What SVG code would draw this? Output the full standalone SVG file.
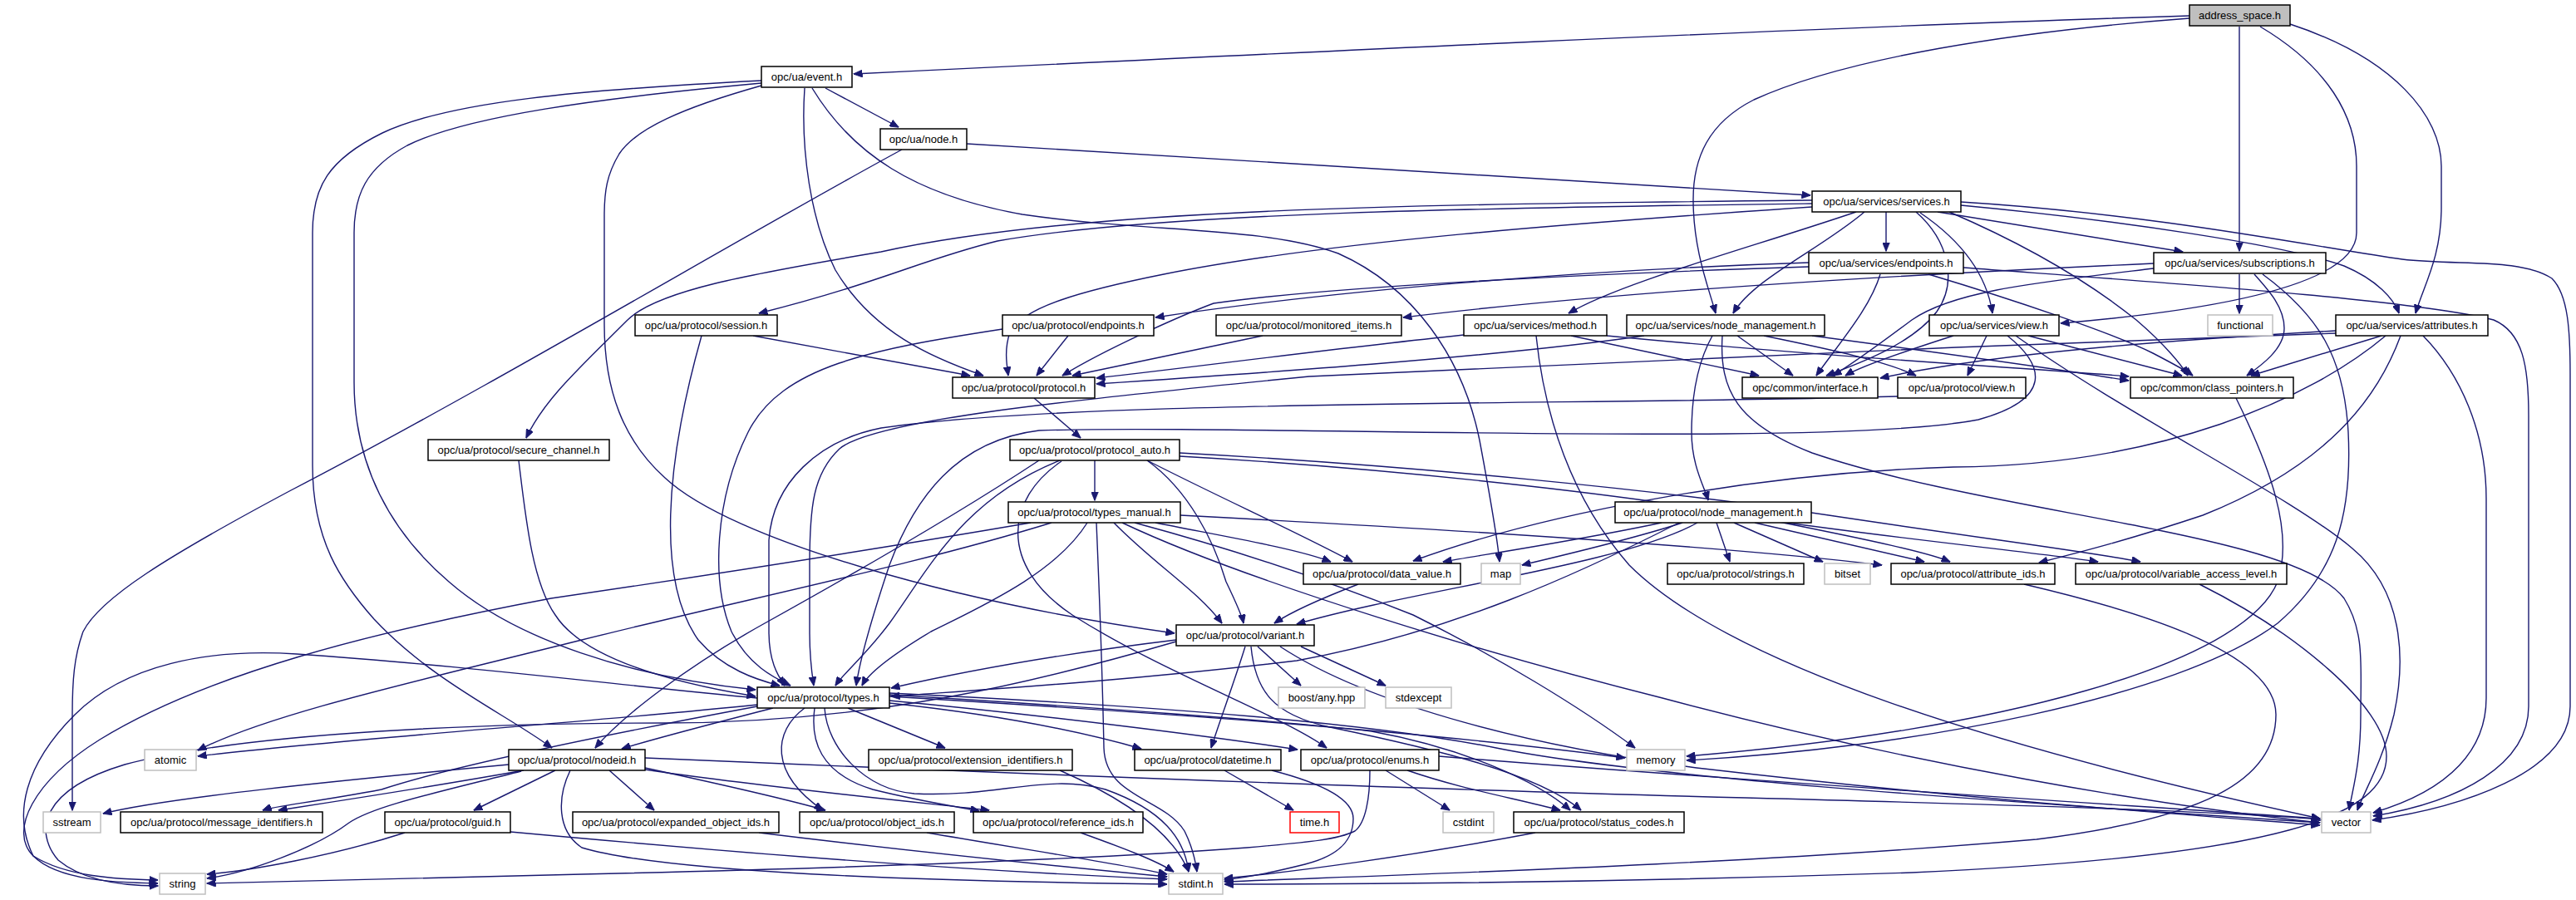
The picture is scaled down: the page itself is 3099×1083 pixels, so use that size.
<svg xmlns="http://www.w3.org/2000/svg" width="3099" height="1083" viewBox="0 0 3099 1083">
<defs>
<marker id="a" markerUnits="userSpaceOnUse" markerWidth="11" markerHeight="9" viewBox="0 0 11 9" refX="10.5" refY="4.5" orient="auto"><path d="M0,0 L11,4.5 L0,9 z" fill="#191970" stroke="#191970" stroke-width="0.8"/></marker>
</defs>
<style>
.e{fill:none;stroke:#191970;stroke-width:1.4;marker-end:url(#a)}
.n rect{fill:#fff;stroke:#000;stroke-width:1.5}
.g rect{fill:#fff;stroke:#bfbfbf;stroke-width:1.5}
.r rect{fill:#bfbfbf;stroke:#000;stroke-width:1.5}
.x rect{fill:#fff;stroke:#ff0000;stroke-width:1.5}
text{font-family:"Liberation Sans",Arial,sans-serif;font-size:13px;text-anchor:middle;fill:#000}
</style>
<rect width="3099" height="1083" fill="#fff"/>
<g id="edges">
<path class="e" d="M2634,19 C2200,32 1500,66 1027,89"/>
<path class="e" d="M2634,22 C2420,38 2220,70 2110,120 C2055,148 2037,190 2037,240 C2037,300 2055,345 2064,377"/>
<path class="e" d="M2694,32 L2694,302"/>
<path class="e" d="M2719,32 C2800,80 2835,140 2835,200 L2835,280 C2835,340 2680,372 2479,389"/>
<path class="e" d="M2755,29 C2880,70 2937,140 2937,200 L2937,250 C2937,310 2915,345 2906,377"/>
<path class="e" d="M993,106 L1081,153"/>
<path class="e" d="M916,97 C700,108 540,122 460,160 C395,192 376,225 376,280 L376,560 C376,650 410,700 450,745 C520,820 610,860 664,900"/>
<path class="e" d="M916,100 C720,118 560,140 490,175 C440,202 426,235 426,280 L426,460 C426,560 470,640 540,700 C620,770 760,815 909,830"/>
<path class="e" d="M916,103 C820,130 765,155 745,185 C730,210 727,230 727,260 L727,390 C727,470 750,530 800,575 C880,650 1150,725 1413,762"/>
<path class="e" d="M968,106 C963,180 975,265 1005,325 C1050,400 1120,430 1183,452"/>
<path class="e" d="M977,106 C1025,185 1100,235 1230,258 C1380,280 1520,272 1610,305 C1700,345 1760,430 1780,530 C1795,610 1801,645 1804,676"/>
<path class="e" d="M1163,173 L2178,235"/>
<path class="e" d="M1085,180 C900,280 600,460 350,590 C200,670 120,720 100,760 C89,790 87,820 87,860 L87,975"/>
<path class="e" d="M2269,255 L2269,302"/>
<path class="e" d="M2331,255 C2450,275 2550,290 2626,303"/>
<path class="e" d="M2310,256 C2360,290 2390,330 2397,377"/>
<path class="e" d="M2359,247 C2550,265 2750,295 2820,320 C2860,337 2880,360 2886,377"/>
<path class="e" d="M2359,243 C2600,258 2800,300 2890,312 C2960,320 3030,310 3070,335 C3090,355 3092,400 3092,450 L3092,850 C3092,930 2960,972 2854,987"/>
<path class="e" d="M2243,255 C2190,300 2110,335 2085,377"/>
<path class="e" d="M2233,255 C2100,300 1950,340 1887,377"/>
<path class="e" d="M2180,249 C1900,268 1600,290 1400,330 C1300,350 1230,370 1215,400 C1208,420 1211,438 1213,452"/>
<path class="e" d="M2180,245 C1800,250 1400,255 1200,290 C1110,312 1060,340 913,377"/>
<path class="e" d="M2180,241 C1700,246 1300,250 1060,303 C900,330 790,350 755,385 C700,440 655,480 633,527"/>
<path class="e" d="M2305,255 C2345,290 2355,340 2330,375 C2300,415 2230,440 2197,452"/>
<path class="e" d="M2345,255 C2450,300 2520,345 2570,385 C2605,415 2625,440 2632,452"/>
<path class="e" d="M2176,316 C1900,325 1600,350 1390,382"/>
<path class="e" d="M2176,321 C1900,330 1600,345 1460,365 C1420,380 1330,420 1278,452"/>
<path class="e" d="M2262,330 C2250,370 2215,410 2185,452"/>
<path class="e" d="M2320,330 C2420,360 2540,400 2590,425 C2615,438 2630,446 2638,452"/>
<path class="e" d="M2362,322 C2600,340 2900,360 3000,385 C3035,400 3042,440 3042,500 L3042,850 C3042,920 2960,965 2855,982"/>
<path class="e" d="M2694,330 L2694,377"/>
<path class="e" d="M2712,330 C2730,350 2748,370 2748,395 C2748,420 2720,440 2703,452"/>
<path class="e" d="M2591,323 C2450,340 2350,350 2300,385 C2260,415 2225,440 2205,452"/>
<path class="e" d="M2591,317 C2300,330 1950,350 1688,382"/>
<path class="e" d="M2722,330 C2790,380 2820,430 2825,520 C2830,620 2810,690 2740,750 C2620,840 2300,900 2029,915"/>
<path class="e" d="M2690,479 C2730,560 2760,640 2740,700 C2700,800 2400,880 2029,910"/>
<path class="e" d="M906,404 L1167,452"/>
<path class="e" d="M844,404 C800,560 790,700 840,770 C870,805 910,818 938,825"/>
<path class="e" d="M1285,404 L1247,452"/>
<path class="e" d="M1206,396 C1050,420 940,440 900,520 C860,600 855,700 880,760 C900,800 930,815 951,825"/>
<path class="e" d="M1519,404 L1290,452"/>
<path class="e" d="M1761,403 C1600,420 1450,440 1319,455"/>
<path class="e" d="M1890,404 L2116,452"/>
<path class="e" d="M1933,404 C2200,430 2400,440 2561,453"/>
<path class="e" d="M1848,404 C1858,500 1890,600 1960,680 C2080,800 2400,900 2791,985"/>
<path class="e" d="M2060,404 C2040,440 2035,480 2035,520 C2035,560 2050,585 2055,602"/>
<path class="e" d="M2090,404 L2157,452"/>
<path class="e" d="M2122,404 C2200,420 2270,435 2305,452"/>
<path class="e" d="M2180,404 C2300,420 2450,440 2561,458"/>
<path class="e" d="M2072,404 C2068,470 2090,510 2180,545 C2400,620 2760,640 2820,720 C2845,760 2840,800 2840,860 C2840,920 2830,950 2826,975"/>
<path class="e" d="M1978,404 C1800,430 1500,450 1319,462"/>
<path class="e" d="M2390,404 L2367,452"/>
<path class="e" d="M2350,404 C2300,420 2240,440 2220,452"/>
<path class="e" d="M2440,404 L2625,452"/>
<path class="e" d="M2415,404 C2460,440 2470,480 2380,505 C2200,540 1500,510 1250,518 C1150,530 1100,600 1070,680 C1050,740 1035,790 1030,825"/>
<path class="e" d="M2425,404 C2560,500 2760,600 2830,660 C2890,710 2895,790 2880,860 C2865,920 2845,950 2836,975"/>
<path class="e" d="M2810,398 C2600,410 2400,425 2262,455"/>
<path class="e" d="M2865,404 L2708,452"/>
<path class="e" d="M2810,401 C2400,415 1800,440 1575,453 C1300,480 1050,505 1010,540 C978,570 974,610 974,680 L974,760 C974,795 977,812 979,825"/>
<path class="e" d="M2870,404 C2780,480 2600,560 2350,562 C2100,570 1850,620 1700,675"/>
<path class="e" d="M2888,404 C2860,480 2800,560 2650,620 C2560,650 2500,665 2453,677"/>
<path class="e" d="M2915,404 C2960,450 2991,520 2991,600 L2991,840 C2991,900 2950,950 2855,978"/>
<path class="e" d="M1244,479 L1300,527"/>
<path class="e" d="M2283,477 C1900,488 1300,480 1060,515 C985,530 930,580 925,650 L925,760 C925,795 935,812 944,825"/>
<path class="e" d="M624,554 C632,620 640,700 668,740 C700,790 800,820 909,838"/>
<path class="e" d="M1317,554 L1317,602"/>
<path class="e" d="M1419,545 C1700,560 2000,590 2200,620 C2400,650 2520,665 2575,676"/>
<path class="e" d="M1419,549 C1700,565 2000,600 2150,630 C2250,650 2320,665 2346,676"/>
<path class="e" d="M1380,554 C1470,600 1560,640 1627,676"/>
<path class="e" d="M1380,554 C1430,590 1460,650 1475,700 C1487,725 1494,740 1496,750"/>
<path class="e" d="M1275,554 C1160,600 1120,680 1070,750 C1040,790 1015,810 1005,825"/>
<path class="e" d="M1250,554 C1150,620 1010,700 920,750 C830,800 750,860 716,900"/>
<path class="e" d="M1277,555 C1210,600 1200,680 1290,740 C1400,810 1540,860 1596,900"/>
<path class="e" d="M1390,629 C1470,645 1560,660 1601,676"/>
<path class="e" d="M1420,620 C1800,640 2100,660 2264,680"/>
<path class="e" d="M1340,629 C1390,680 1440,710 1470,750"/>
<path class="e" d="M1308,629 C1270,690 1180,730 1120,760 C1070,790 1045,810 1037,825"/>
<path class="e" d="M1319,629 C1322,700 1326,800 1328,900 C1330,960 1400,960 1425,1000 C1435,1020 1438,1035 1440,1049"/>
<path class="e" d="M1365,629 C1480,660 1600,700 1700,740 C1800,790 1900,850 1967,900"/>
<path class="e" d="M1350,629 C1500,700 1800,790 2000,840 C2300,920 2600,970 2791,990"/>
<path class="e" d="M1265,629 C1100,680 900,720 700,770 C500,820 320,860 238,903"/>
<path class="e" d="M1240,629 C1000,670 800,700 663,720 C450,760 250,810 120,890 C40,940 10,1000 40,1030 C80,1055 140,1058 190,1059"/>
<path class="e" d="M911,840 C750,825 550,800 357,787 C250,780 150,800 90,860 C30,920 15,980 40,1030 C70,1060 140,1062 190,1063"/>
<path class="e" d="M1415,772 C1250,820 1050,870 800,870 C600,870 300,880 150,920 C50,950 40,1000 70,1035 C100,1060 150,1066 190,1066"/>
<path class="e" d="M911,848 C700,870 400,890 238,910"/>
<path class="e" d="M911,850 C750,880 550,920 459,950 C380,965 330,970 316,975"/>
<path class="e" d="M930,852 C860,870 790,888 748,901"/>
<path class="e" d="M1020,852 L1137,900"/>
<path class="e" d="M1070,846 C1200,860 1300,880 1373,901"/>
<path class="e" d="M1070,843 C1250,860 1450,885 1561,902"/>
<path class="e" d="M1070,838 C1350,855 1700,878 1955,912"/>
<path class="e" d="M1070,836 C1300,850 1550,868 1650,880 C1760,900 1850,940 1889,975"/>
<path class="e" d="M1070,834 C1400,850 1650,870 1800,900 C2000,940 2500,970 2791,990"/>
<path class="e" d="M968,852 C930,880 925,930 990,975"/>
<path class="e" d="M980,852 C975,890 985,930 1050,950 C1110,965 1160,972 1178,976"/>
<path class="e" d="M992,852 C995,900 1040,950 1100,955 C1200,960 1260,930 1330,950 C1400,975 1425,1010 1430,1049"/>
<path class="e" d="M1415,770 C1250,790 1150,810 1072,828"/>
<path class="e" d="M2020,629 C1900,690 1750,760 1560,795 C1350,820 1180,830 1072,838"/>
<path class="e" d="M2042,629 C1950,680 1700,710 1560,751"/>
<path class="e" d="M1999,629 C1900,650 1800,665 1736,676"/>
<path class="e" d="M2024,629 C1960,650 1880,668 1831,680"/>
<path class="e" d="M2065,629 L2081,676"/>
<path class="e" d="M2086,629 L2193,676"/>
<path class="e" d="M2111,629 L2315,676"/>
<path class="e" d="M2150,629 C2300,650 2450,665 2524,676"/>
<path class="e" d="M1634,703 C1590,720 1555,735 1533,750"/>
<path class="e" d="M2435,703 C2550,730 2738,780 2738,860 C2738,940 2650,985 2450,1010 C2100,1040 1700,1052 1473,1061"/>
<path class="e" d="M2646,703 C2760,760 2871,850 2871,910 C2871,980 2750,1030 2300,1050 C2000,1060 1700,1064 1473,1064"/>
<path class="e" d="M1513,778 L1565,825"/>
<path class="e" d="M1565,778 L1667,825"/>
<path class="e" d="M1498,778 C1485,820 1470,860 1457,900"/>
<path class="e" d="M1505,778 C1510,830 1530,860 1600,875 C1720,900 1850,930 1902,975"/>
<path class="e" d="M1540,778 C1650,850 1850,900 2050,925 C2350,960 2600,978 2791,993"/>
<path class="e" d="M1275,927 C1350,960 1410,1000 1430,1049"/>
<path class="e" d="M1473,927 L1556,975"/>
<path class="e" d="M1530,927 C1600,945 1628,965 1628,985 C1628,1012 1610,1030 1570,1040 C1530,1050 1500,1056 1473,1059"/>
<path class="e" d="M1667,927 L1744,975"/>
<path class="e" d="M1693,927 C1760,950 1820,960 1877,975"/>
<path class="e" d="M1731,910 C2100,940 2500,965 2791,985"/>
<path class="e" d="M1648,927 C1648,960 1643,990 1630,1000 C1610,1010 1580,1013 1500,1020 C1300,1035 1000,1045 700,1052 C500,1056 350,1060 249,1063"/>
<path class="e" d="M1847,1002 C1700,1030 1550,1050 1473,1057"/>
<path class="e" d="M487,1002 C400,1030 300,1048 249,1052"/>
<path class="e" d="M614,1001 C800,1018 1100,1045 1404,1058"/>
<path class="e" d="M612,920 C400,940 200,960 124,979"/>
<path class="e" d="M630,927 C500,950 400,965 335,975"/>
<path class="e" d="M627,928 C520,955 450,970 420,990 C380,1020 300,1050 249,1057"/>
<path class="e" d="M668,927 L570,975"/>
<path class="e" d="M733,927 L787,975"/>
<path class="e" d="M776,924 C850,940 940,960 993,975"/>
<path class="e" d="M776,926 C900,945 1100,965 1190,975"/>
<path class="e" d="M686,927 C670,960 670,1000 700,1020 C800,1050 1100,1060 1404,1064"/>
<path class="e" d="M776,912 C1200,930 1700,950 2100,960 C2400,968 2650,975 2791,986"/>
<path class="e" d="M913,1002 C1100,1025 1300,1045 1404,1055"/>
<path class="e" d="M1115,1002 C1250,1025 1350,1040 1404,1052"/>
<path class="e" d="M1300,1002 C1350,1020 1390,1035 1412,1049"/>
</g>
<g id="address_space" class="r"><rect x="2634" y="6" width="121" height="25"/><text x="2694.5" y="23">address_space.h</text></g>
<g id="event" class="n"><rect x="916" y="80" width="109" height="25"/><text x="970.5" y="97">opc/ua/event.h</text></g>
<g id="node" class="n"><rect x="1059" y="155" width="104" height="25"/><text x="1111" y="172">opc/ua/node.h</text></g>
<g id="services" class="n"><rect x="2180" y="230" width="179" height="25"/><text x="2269.5" y="247">opc/ua/services/services.h</text></g>
<g id="services_endpoints" class="n"><rect x="2176" y="304" width="186" height="25"/><text x="2269" y="321">opc/ua/services/endpoints.h</text></g>
<g id="subscriptions" class="n"><rect x="2591" y="304" width="207" height="25"/><text x="2694.5" y="321">opc/ua/services/subscriptions.h</text></g>
<g id="session" class="n"><rect x="764" y="379" width="171" height="25"/><text x="849.5" y="396">opc/ua/protocol/session.h</text></g>
<g id="protocol_endpoints" class="n"><rect x="1206" y="379" width="182" height="25"/><text x="1297" y="396">opc/ua/protocol/endpoints.h</text></g>
<g id="monitored_items" class="n"><rect x="1463" y="379" width="223" height="25"/><text x="1574.5" y="396">opc/ua/protocol/monitored_items.h</text></g>
<g id="method" class="n"><rect x="1761" y="379" width="172" height="25"/><text x="1847" y="396">opc/ua/services/method.h</text></g>
<g id="services_node_management" class="n"><rect x="1957" y="379" width="238" height="25"/><text x="2076" y="396">opc/ua/services/node_management.h</text></g>
<g id="services_view" class="n"><rect x="2321" y="379" width="156" height="25"/><text x="2399" y="396">opc/ua/services/view.h</text></g>
<g id="functional" class="g"><rect x="2656" y="379" width="78" height="25"/><text x="2695" y="396">functional</text></g>
<g id="attributes" class="n"><rect x="2810" y="379" width="183" height="25"/><text x="2901.5" y="396">opc/ua/services/attributes.h</text></g>
<g id="protocol" class="n"><rect x="1146" y="454" width="171" height="25"/><text x="1231.5" y="471">opc/ua/protocol/protocol.h</text></g>
<g id="interface" class="n"><rect x="2096" y="454" width="163" height="25"/><text x="2177.5" y="471">opc/common/interface.h</text></g>
<g id="protocol_view" class="n"><rect x="2283" y="454" width="154" height="25"/><text x="2360" y="471">opc/ua/protocol/view.h</text></g>
<g id="class_pointers" class="n"><rect x="2563" y="454" width="196" height="25"/><text x="2661" y="471">opc/common/class_pointers.h</text></g>
<g id="secure_channel" class="n"><rect x="515" y="529" width="218" height="25"/><text x="624" y="546">opc/ua/protocol/secure_channel.h</text></g>
<g id="protocol_auto" class="n"><rect x="1215" y="529" width="204" height="25"/><text x="1317" y="546">opc/ua/protocol/protocol_auto.h</text></g>
<g id="types_manual" class="n"><rect x="1213" y="604" width="207" height="25"/><text x="1316.5" y="621">opc/ua/protocol/types_manual.h</text></g>
<g id="protocol_node_management" class="n"><rect x="1943" y="604" width="236" height="25"/><text x="2061" y="621">opc/ua/protocol/node_management.h</text></g>
<g id="data_value" class="n"><rect x="1568" y="678" width="189" height="25"/><text x="1662.5" y="695">opc/ua/protocol/data_value.h</text></g>
<g id="map" class="g"><rect x="1782" y="678" width="47" height="25"/><text x="1805.5" y="695">map</text></g>
<g id="strings" class="n"><rect x="2006" y="678" width="164" height="25"/><text x="2088" y="695">opc/ua/protocol/strings.h</text></g>
<g id="bitset" class="g"><rect x="2195" y="678" width="55" height="25"/><text x="2222.5" y="695">bitset</text></g>
<g id="attribute_ids" class="n"><rect x="2275" y="678" width="197" height="25"/><text x="2373.5" y="695">opc/ua/protocol/attribute_ids.h</text></g>
<g id="variable_access_level" class="n"><rect x="2497" y="678" width="254" height="25"/><text x="2624" y="695">opc/ua/protocol/variable_access_level.h</text></g>
<g id="variant" class="n"><rect x="1415" y="752" width="166" height="25"/><text x="1498" y="769">opc/ua/protocol/variant.h</text></g>
<g id="types" class="n"><rect x="911" y="827" width="159" height="25"/><text x="990.5" y="844">opc/ua/protocol/types.h</text></g>
<g id="boost_any" class="g"><rect x="1538" y="827" width="104" height="25"/><text x="1590" y="844">boost/any.hpp</text></g>
<g id="stdexcept" class="g"><rect x="1667" y="827" width="79" height="25"/><text x="1706.5" y="844">stdexcept</text></g>
<g id="atomic" class="g"><rect x="174" y="902" width="62" height="25"/><text x="205" y="919">atomic</text></g>
<g id="nodeid" class="n"><rect x="612" y="902" width="164" height="25"/><text x="694" y="919">opc/ua/protocol/nodeid.h</text></g>
<g id="extension_identifiers" class="n"><rect x="1045" y="902" width="245" height="25"/><text x="1167.5" y="919">opc/ua/protocol/extension_identifiers.h</text></g>
<g id="datetime" class="n"><rect x="1365" y="902" width="176" height="25"/><text x="1453" y="919">opc/ua/protocol/datetime.h</text></g>
<g id="enums" class="n"><rect x="1565" y="902" width="166" height="25"/><text x="1648" y="919">opc/ua/protocol/enums.h</text></g>
<g id="memory" class="g"><rect x="1957" y="902" width="70" height="25"/><text x="1992" y="919">memory</text></g>
<g id="sstream" class="g"><rect x="52" y="977" width="69" height="25"/><text x="86.5" y="994">sstream</text></g>
<g id="message_identifiers" class="n"><rect x="145" y="977" width="243" height="25"/><text x="266.5" y="994">opc/ua/protocol/message_identifiers.h</text></g>
<g id="guid" class="n"><rect x="463" y="977" width="151" height="25"/><text x="538.5" y="994">opc/ua/protocol/guid.h</text></g>
<g id="expanded_object_ids" class="n"><rect x="689" y="977" width="248" height="25"/><text x="813" y="994">opc/ua/protocol/expanded_object_ids.h</text></g>
<g id="object_ids" class="n"><rect x="962" y="977" width="186" height="25"/><text x="1055" y="994">opc/ua/protocol/object_ids.h</text></g>
<g id="reference_ids" class="n"><rect x="1171" y="977" width="204" height="25"/><text x="1273" y="994">opc/ua/protocol/reference_ids.h</text></g>
<g id="time" class="x"><rect x="1552" y="977" width="59" height="25"/><text x="1581.5" y="994">time.h</text></g>
<g id="cstdint" class="g"><rect x="1736" y="977" width="61" height="25"/><text x="1766.5" y="994">cstdint</text></g>
<g id="status_codes" class="n"><rect x="1821" y="977" width="205" height="25"/><text x="1923.5" y="994">opc/ua/protocol/status_codes.h</text></g>
<g id="vector" class="g"><rect x="2793" y="977" width="59" height="25"/><text x="2822.5" y="994">vector</text></g>
<g id="string" class="g"><rect x="192" y="1051" width="55" height="25"/><text x="219.5" y="1068">string</text></g>
<g id="stdint" class="g"><rect x="1406" y="1051" width="65" height="25"/><text x="1438.5" y="1068">stdint.h</text></g>
</svg>
